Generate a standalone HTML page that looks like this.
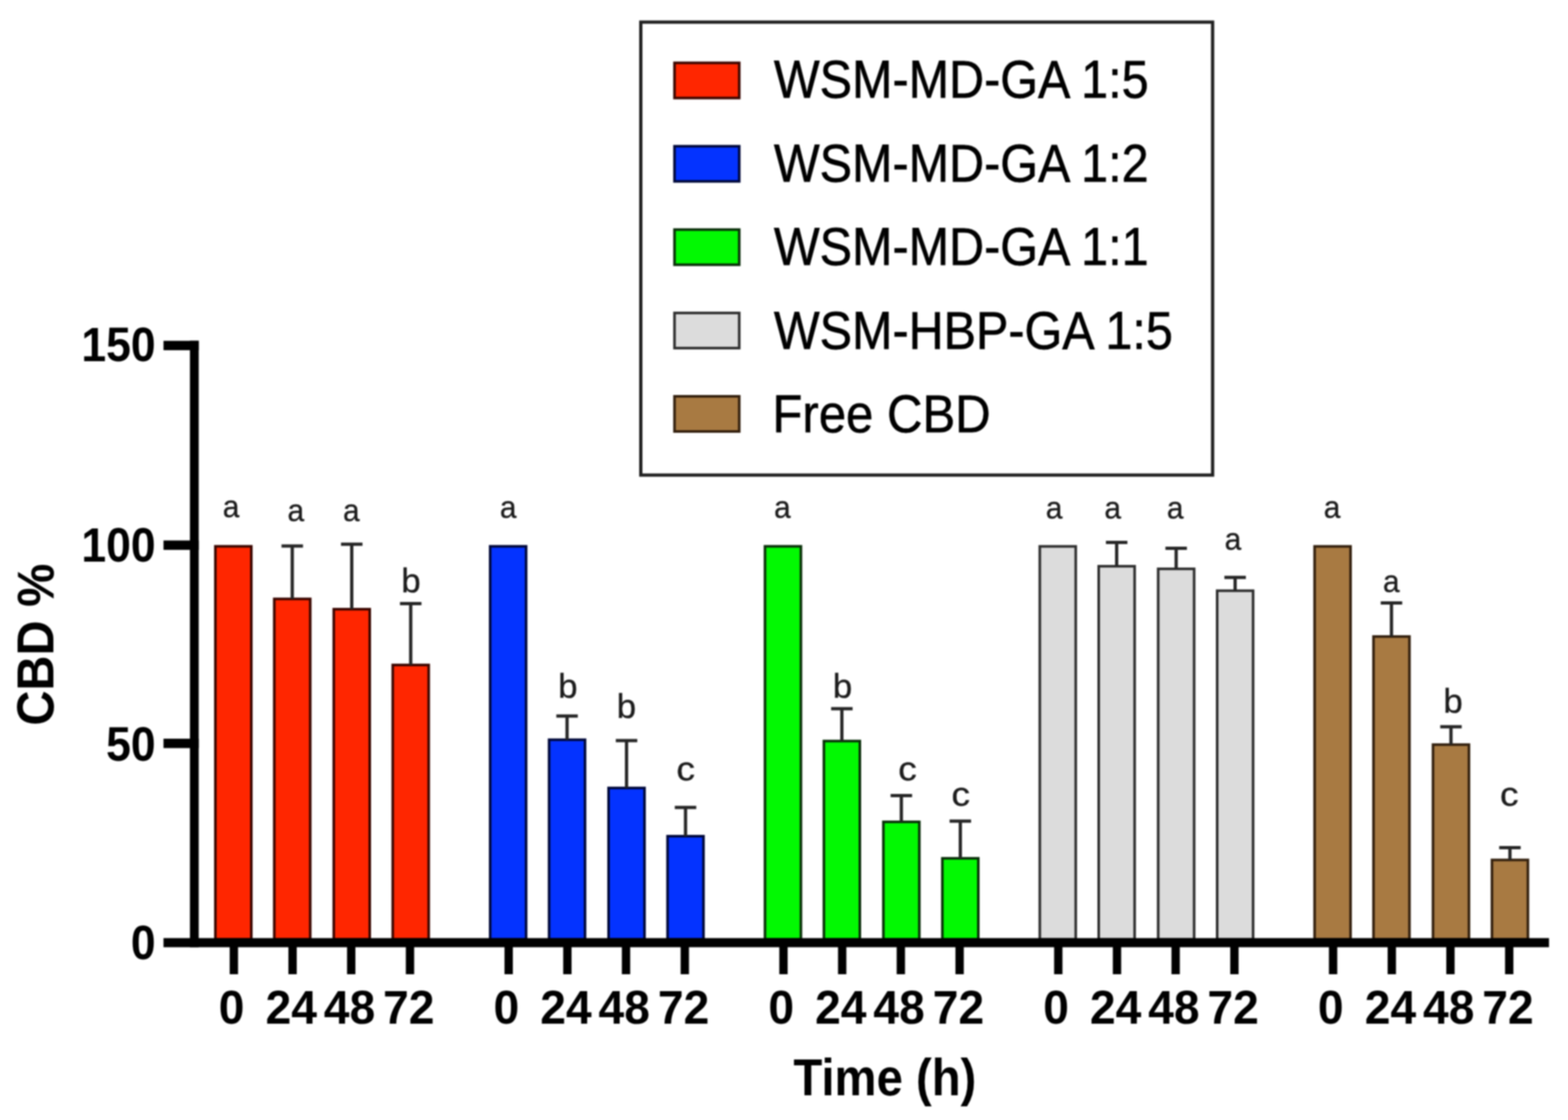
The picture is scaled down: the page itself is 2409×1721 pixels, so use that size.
<!DOCTYPE html><html lang="en"><head><meta charset="utf-8"><title>CBD % over time</title><style>html,body{margin:0;padding:0;background:#fff;overflow:hidden}svg{display:block;filter:blur(1px)}text{font-family:"Liberation Sans", Arial, Helvetica, sans-serif}</style></head><body>
<svg width="2409" height="1721" viewBox="0 0 2409 1721">
<rect width="2409" height="1721" fill="#fff"/>
<rect x="984.5" y="34" width="878.5" height="696" fill="none" stroke="#202020" stroke-width="5"/>
<rect x="1036.3" y="96.6" width="99.4" height="54.0" fill="#FF2600" stroke="#3a0600" stroke-width="4"/>
<text transform="translate(1189.0 150.2) scale(0.981 1.063)" font-size="76" stroke="#000" stroke-width="0.8">WSM-MD-GA 1:5</text>
<rect x="1036.3" y="224.7" width="99.4" height="54.0" fill="#0433FF" stroke="#00083a" stroke-width="4"/>
<text transform="translate(1189.0 278.7) scale(0.981 1.063)" font-size="76" stroke="#000" stroke-width="0.8">WSM-MD-GA 1:2</text>
<rect x="1036.3" y="352.8" width="99.4" height="54.0" fill="#02F902" stroke="#0a300a" stroke-width="4"/>
<text transform="translate(1189.0 407.2) scale(0.981 1.063)" font-size="76" stroke="#000" stroke-width="0.8">WSM-MD-GA 1:1</text>
<rect x="1036.3" y="480.9" width="99.4" height="54.0" fill="#DCDCDC" stroke="#2e2e2e" stroke-width="4"/>
<text transform="translate(1189.0 535.7) scale(0.981 1.063)" font-size="76" stroke="#000" stroke-width="0.8">WSM-HBP-GA 1:5</text>
<rect x="1036.3" y="609.0" width="99.4" height="54.0" fill="#A87A42" stroke="#33200e" stroke-width="4"/>
<text transform="translate(1186.8 664.2) scale(0.992 1.063)" font-size="76" stroke="#000" stroke-width="0.8">Free CBD</text>
<rect x="330.9" y="839.5" width="55.2" height="604.0" fill="#FF2600" stroke="#3a0600" stroke-width="4"/>
<text transform="translate(354.9 795.0) scale(0.9 0.93)" font-size="51" text-anchor="middle" fill="#1c1c1c" stroke="#1c1c1c" stroke-width="0.5">a</text>
<rect x="421.4" y="920.3" width="55.2" height="523.2" fill="#FF2600" stroke="#3a0600" stroke-width="4"/>
<path d="M432.5 838.9H465.5M449.0 838.9V920.3" stroke="#262626" stroke-width="5" fill="none"/>
<text transform="translate(454.6 801.4) scale(0.9 0.93)" font-size="51" text-anchor="middle" fill="#1c1c1c" stroke="#1c1c1c" stroke-width="0.5">a</text>
<rect x="512.8" y="936.1" width="55.2" height="507.4" fill="#FF2600" stroke="#3a0600" stroke-width="4"/>
<path d="M523.9 836.2H556.9M540.4 836.2V936.1" stroke="#262626" stroke-width="5" fill="none"/>
<text transform="translate(539.8 801.4) scale(0.9 0.93)" font-size="51" text-anchor="middle" fill="#1c1c1c" stroke="#1c1c1c" stroke-width="0.5">a</text>
<rect x="603.4" y="1021.8" width="55.2" height="421.7" fill="#FF2600" stroke="#3a0600" stroke-width="4"/>
<path d="M614.5 927.6H647.5M631.0 927.6V1021.8" stroke="#262626" stroke-width="5" fill="none"/>
<text transform="translate(631.4 909.5) scale(1.05 1.03)" font-size="51" text-anchor="middle" fill="#1c1c1c" stroke="#1c1c1c" stroke-width="0.5">b</text>
<rect x="753.1" y="839.5" width="55.2" height="604.0" fill="#0433FF" stroke="#00083a" stroke-width="4"/>
<text transform="translate(780.7 795.5) scale(0.9 0.93)" font-size="51" text-anchor="middle" fill="#1c1c1c" stroke="#1c1c1c" stroke-width="0.5">a</text>
<rect x="843.6" y="1136.7" width="55.2" height="306.8" fill="#0433FF" stroke="#00083a" stroke-width="4"/>
<path d="M854.7 1100.2H887.7M871.2 1100.2V1136.7" stroke="#262626" stroke-width="5" fill="none"/>
<text transform="translate(872.4 1072.2) scale(1.05 1.03)" font-size="51" text-anchor="middle" fill="#1c1c1c" stroke="#1c1c1c" stroke-width="0.5">b</text>
<rect x="935.0" y="1210.8" width="55.2" height="232.7" fill="#0433FF" stroke="#00083a" stroke-width="4"/>
<path d="M946.1 1138.1H979.1M962.6 1138.1V1210.8" stroke="#262626" stroke-width="5" fill="none"/>
<text transform="translate(962.5 1102.6) scale(1.05 1.03)" font-size="51" text-anchor="middle" fill="#1c1c1c" stroke="#1c1c1c" stroke-width="0.5">b</text>
<rect x="1025.6" y="1284.9" width="55.2" height="158.6" fill="#0433FF" stroke="#00083a" stroke-width="4"/>
<path d="M1036.7 1240.7H1069.7M1053.2 1240.7V1284.9" stroke="#262626" stroke-width="5" fill="none"/>
<text transform="translate(1053.6 1199.0) scale(1.12 1.0)" font-size="51" text-anchor="middle" fill="#1c1c1c" stroke="#1c1c1c" stroke-width="0.5">c</text>
<rect x="1175.3" y="839.5" width="55.2" height="604.0" fill="#02F902" stroke="#0a300a" stroke-width="4"/>
<text transform="translate(1201.9 795.5) scale(0.9 0.93)" font-size="51" text-anchor="middle" fill="#1c1c1c" stroke="#1c1c1c" stroke-width="0.5">a</text>
<rect x="1265.8" y="1138.7" width="55.2" height="304.8" fill="#02F902" stroke="#0a300a" stroke-width="4"/>
<path d="M1276.9 1089.0H1309.9M1293.4 1089.0V1138.7" stroke="#262626" stroke-width="5" fill="none"/>
<text transform="translate(1294.3 1072.3) scale(1.05 1.03)" font-size="51" text-anchor="middle" fill="#1c1c1c" stroke="#1c1c1c" stroke-width="0.5">b</text>
<rect x="1357.2" y="1262.9" width="55.2" height="180.6" fill="#02F902" stroke="#0a300a" stroke-width="4"/>
<path d="M1368.3 1222.4H1401.3M1384.8 1222.4V1262.9" stroke="#262626" stroke-width="5" fill="none"/>
<text transform="translate(1394.2 1199.4) scale(1.12 1.0)" font-size="51" text-anchor="middle" fill="#1c1c1c" stroke="#1c1c1c" stroke-width="0.5">c</text>
<rect x="1447.8" y="1318.9" width="55.2" height="124.6" fill="#02F902" stroke="#0a300a" stroke-width="4"/>
<path d="M1458.9 1261.7H1491.9M1475.4 1261.7V1318.9" stroke="#262626" stroke-width="5" fill="none"/>
<text transform="translate(1476.1 1238.3) scale(1.12 1.0)" font-size="51" text-anchor="middle" fill="#1c1c1c" stroke="#1c1c1c" stroke-width="0.5">c</text>
<rect x="1597.5" y="839.6" width="55.2" height="603.9" fill="#DCDCDC" stroke="#2e2e2e" stroke-width="4"/>
<text transform="translate(1619.6 796.5) scale(0.9 0.93)" font-size="51" text-anchor="middle" fill="#1c1c1c" stroke="#1c1c1c" stroke-width="0.5">a</text>
<rect x="1688.0" y="870.1" width="55.2" height="573.4" fill="#DCDCDC" stroke="#2e2e2e" stroke-width="4"/>
<path d="M1699.1 833.6H1732.1M1715.6 833.6V870.1" stroke="#262626" stroke-width="5" fill="none"/>
<text transform="translate(1709.5 796.5) scale(0.9 0.93)" font-size="51" text-anchor="middle" fill="#1c1c1c" stroke="#1c1c1c" stroke-width="0.5">a</text>
<rect x="1779.4" y="874.1" width="55.2" height="569.4" fill="#DCDCDC" stroke="#2e2e2e" stroke-width="4"/>
<path d="M1790.5 842.4H1823.5M1807.0 842.4V874.1" stroke="#262626" stroke-width="5" fill="none"/>
<text transform="translate(1805.5 796.5) scale(0.9 0.93)" font-size="51" text-anchor="middle" fill="#1c1c1c" stroke="#1c1c1c" stroke-width="0.5">a</text>
<rect x="1870.0" y="907.7" width="55.2" height="535.8" fill="#DCDCDC" stroke="#2e2e2e" stroke-width="4"/>
<path d="M1881.1 887.3H1914.1M1897.6 887.3V907.7" stroke="#262626" stroke-width="5" fill="none"/>
<text transform="translate(1894.3 844.5) scale(0.9 0.93)" font-size="51" text-anchor="middle" fill="#1c1c1c" stroke="#1c1c1c" stroke-width="0.5">a</text>
<rect x="2019.7" y="839.6" width="55.2" height="603.9" fill="#A87A42" stroke="#33200e" stroke-width="4"/>
<text transform="translate(2046.6 795.5) scale(0.9 0.93)" font-size="51" text-anchor="middle" fill="#1c1c1c" stroke="#1c1c1c" stroke-width="0.5">a</text>
<rect x="2110.2" y="978.1" width="55.2" height="465.4" fill="#A87A42" stroke="#33200e" stroke-width="4"/>
<path d="M2121.3 926.5H2154.3M2137.8 926.5V978.1" stroke="#262626" stroke-width="5" fill="none"/>
<text transform="translate(2137.5 909.5) scale(0.9 0.93)" font-size="51" text-anchor="middle" fill="#1c1c1c" stroke="#1c1c1c" stroke-width="0.5">a</text>
<rect x="2201.6" y="1144.2" width="55.2" height="299.3" fill="#A87A42" stroke="#33200e" stroke-width="4"/>
<path d="M2212.7 1116.8H2245.7M2229.2 1116.8V1144.2" stroke="#262626" stroke-width="5" fill="none"/>
<text transform="translate(2232.5 1094.6) scale(1.05 1.03)" font-size="51" text-anchor="middle" fill="#1c1c1c" stroke="#1c1c1c" stroke-width="0.5">b</text>
<rect x="2292.2" y="1321.4" width="55.2" height="122.1" fill="#A87A42" stroke="#33200e" stroke-width="4"/>
<path d="M2303.3 1302.6H2336.3M2319.8 1302.6V1321.4" stroke="#262626" stroke-width="5" fill="none"/>
<text transform="translate(2318.7 1238.2) scale(1.12 1.0)" font-size="51" text-anchor="middle" fill="#1c1c1c" stroke="#1c1c1c" stroke-width="0.5">c</text>
<rect x="291.8" y="523.6" width="13.5" height="931.9" fill="#000"/>
<rect x="251.2" y="1441.5" width="2128.6" height="14.0" fill="#000"/>
<rect x="251.2" y="523.7" width="54.1" height="14.4" fill="#000"/>
<rect x="251.2" y="830.5" width="54.1" height="14.4" fill="#000"/>
<rect x="251.2" y="1135.1" width="54.1" height="14.4" fill="#000"/>
<text transform="translate(239.2 554.5) scale(0.965 1.04)" font-size="71" font-weight="bold" text-anchor="end">150</text>
<text transform="translate(239.2 862.6) scale(0.965 1.04)" font-size="71" font-weight="bold" text-anchor="end">100</text>
<text transform="translate(239.2 1169.0) scale(0.965 1.04)" font-size="71" font-weight="bold" text-anchor="end">50</text>
<text transform="translate(239.2 1473.5) scale(0.965 1.04)" font-size="71" font-weight="bold" text-anchor="end">0</text>
<rect x="352.9" y="1454.5" width="12.8" height="42.5" fill="#000"/>
<text transform="translate(355.8 1572.6) scale(1.0 1.03)" font-size="71" font-weight="bold" text-anchor="middle">0</text>
<rect x="443.1" y="1454.5" width="12.8" height="42.5" fill="#000"/>
<text transform="translate(447.4 1572.6) scale(1.0 1.03)" font-size="71" font-weight="bold" text-anchor="middle">24</text>
<rect x="533.2" y="1454.5" width="12.8" height="42.5" fill="#000"/>
<text transform="translate(536.9 1572.6) scale(1.0 1.03)" font-size="71" font-weight="bold" text-anchor="middle">48</text>
<rect x="623.5" y="1454.5" width="12.8" height="42.5" fill="#000"/>
<text transform="translate(628.0 1572.6) scale(1.0 1.03)" font-size="71" font-weight="bold" text-anchor="middle">72</text>
<rect x="775.1" y="1454.5" width="12.8" height="42.5" fill="#000"/>
<text transform="translate(778.0 1572.6) scale(1.0 1.03)" font-size="71" font-weight="bold" text-anchor="middle">0</text>
<rect x="865.3" y="1454.5" width="12.8" height="42.5" fill="#000"/>
<text transform="translate(869.6 1572.6) scale(1.0 1.03)" font-size="71" font-weight="bold" text-anchor="middle">24</text>
<rect x="955.4" y="1454.5" width="12.8" height="42.5" fill="#000"/>
<text transform="translate(959.1 1572.6) scale(1.0 1.03)" font-size="71" font-weight="bold" text-anchor="middle">48</text>
<rect x="1045.7" y="1454.5" width="12.8" height="42.5" fill="#000"/>
<text transform="translate(1050.2 1572.6) scale(1.0 1.03)" font-size="71" font-weight="bold" text-anchor="middle">72</text>
<rect x="1197.3" y="1454.5" width="12.8" height="42.5" fill="#000"/>
<text transform="translate(1200.2 1572.6) scale(1.0 1.03)" font-size="71" font-weight="bold" text-anchor="middle">0</text>
<rect x="1287.5" y="1454.5" width="12.8" height="42.5" fill="#000"/>
<text transform="translate(1291.8 1572.6) scale(1.0 1.03)" font-size="71" font-weight="bold" text-anchor="middle">24</text>
<rect x="1377.6" y="1454.5" width="12.8" height="42.5" fill="#000"/>
<text transform="translate(1381.3 1572.6) scale(1.0 1.03)" font-size="71" font-weight="bold" text-anchor="middle">48</text>
<rect x="1467.9" y="1454.5" width="12.8" height="42.5" fill="#000"/>
<text transform="translate(1472.4 1572.6) scale(1.0 1.03)" font-size="71" font-weight="bold" text-anchor="middle">72</text>
<rect x="1619.5" y="1454.5" width="12.8" height="42.5" fill="#000"/>
<text transform="translate(1622.4 1572.6) scale(1.0 1.03)" font-size="71" font-weight="bold" text-anchor="middle">0</text>
<rect x="1709.7" y="1454.5" width="12.8" height="42.5" fill="#000"/>
<text transform="translate(1714.0 1572.6) scale(1.0 1.03)" font-size="71" font-weight="bold" text-anchor="middle">24</text>
<rect x="1799.8" y="1454.5" width="12.8" height="42.5" fill="#000"/>
<text transform="translate(1803.5 1572.6) scale(1.0 1.03)" font-size="71" font-weight="bold" text-anchor="middle">48</text>
<rect x="1890.1" y="1454.5" width="12.8" height="42.5" fill="#000"/>
<text transform="translate(1894.6 1572.6) scale(1.0 1.03)" font-size="71" font-weight="bold" text-anchor="middle">72</text>
<rect x="2041.7" y="1454.5" width="12.8" height="42.5" fill="#000"/>
<text transform="translate(2044.6 1572.6) scale(1.0 1.03)" font-size="71" font-weight="bold" text-anchor="middle">0</text>
<rect x="2131.9" y="1454.5" width="12.8" height="42.5" fill="#000"/>
<text transform="translate(2136.2 1572.6) scale(1.0 1.03)" font-size="71" font-weight="bold" text-anchor="middle">24</text>
<rect x="2222.0" y="1454.5" width="12.8" height="42.5" fill="#000"/>
<text transform="translate(2225.7 1572.6) scale(1.0 1.03)" font-size="71" font-weight="bold" text-anchor="middle">48</text>
<rect x="2312.3" y="1454.5" width="12.8" height="42.5" fill="#000"/>
<text transform="translate(2316.8 1572.6) scale(1.0 1.03)" font-size="71" font-weight="bold" text-anchor="middle">72</text>
<text transform="translate(1359.4 1683.3) scale(0.968 1.07)" font-size="75" font-weight="bold" text-anchor="middle">Time (h)</text>
<text transform="translate(81.6 990.6) rotate(-90) scale(0.996 1.05)" font-size="75" font-weight="bold" text-anchor="middle">CBD %</text>
</svg></body></html>
